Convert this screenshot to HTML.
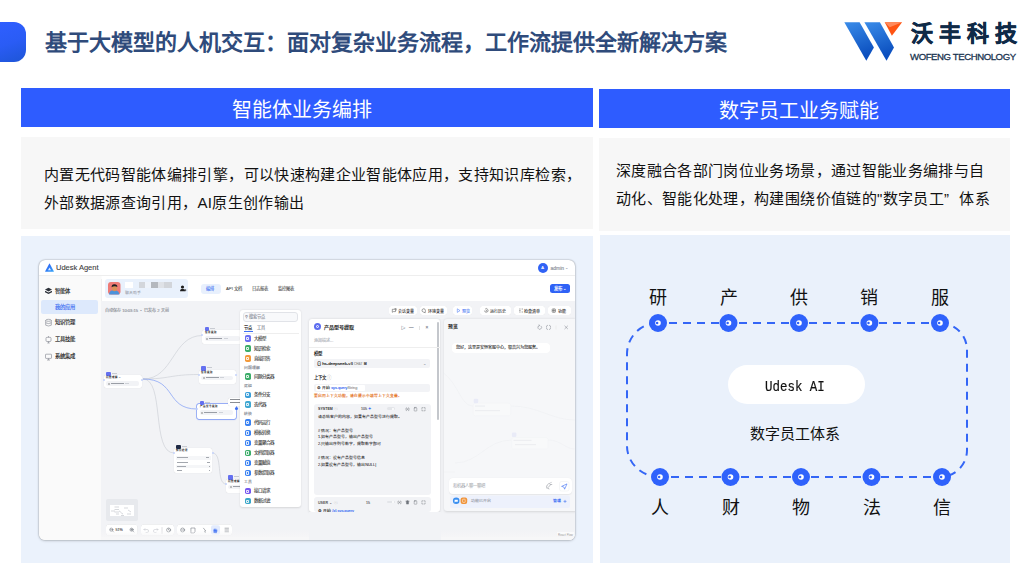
<!DOCTYPE html>
<html lang="zh-CN"><head><meta charset="utf-8">
<style>
*{margin:0;padding:0;box-sizing:border-box}
html,body{width:1034px;height:576px;overflow:hidden;background:#fff;font-family:"Liberation Sans",sans-serif}
.a{position:absolute;white-space:nowrap}
#tab{left:0;top:22px;width:26px;height:40px;border-radius:0 12px 12px 0;background:linear-gradient(160deg,#2f5fff 0%,#2a5cf5 50%,#1d55d6 100%)}
#title{left:44.5px;top:30px;font-size:22px;line-height:26px;font-weight:bold;color:#2f4b7b}
.bar{background:#2e5cff;color:#fff;font-size:20px;line-height:20px}
.grey{background:#f7f7f7}
.lb{background:#eaf1fb}
.txt{font-size:15px;line-height:28px;color:#111;letter-spacing:.35px}
.fq{display:inline-block;width:15.35px}
</style></head><body>
<div id="tab" class="a"></div>
<div id="title" class="a">基于大模型的人机交互：面对复杂业务流程，工作流提供全新解决方案</div>

<!-- logo -->
<svg class="a" style="left:0;top:0" width="1034" height="80">
 <defs>
  <linearGradient id="lg" x1="0" y1="0" x2="0.3" y2="1">
   <stop offset="0" stop-color="#3a8ce9"/><stop offset="1" stop-color="#0b4fbf"/>
  </linearGradient>
 </defs>
 <polygon points="844.3,22.2 859.6,22.2 873.9,47.5 866.3,60.7" fill="url(#lg)"/>
 <polygon points="864.4,22.2 879.9,22.2 894,47.5 886.5,60.7" fill="url(#lg)"/>
 <polygon points="884.7,22.2 902.1,22.2 891.9,35.8" fill="#ff5412"/>
 <polygon points="884.7,22.2 902.1,22.2 889.7,27.2" fill="#ff8a5c"/>
</svg>
<div class="a" style="left:911px;top:20.5px;font-size:22px;line-height:26px;font-weight:bold;color:#0f2a47;letter-spacing:6px;-webkit-text-stroke:.5px #0f2a47">沃丰科技</div>
<div class="a" style="left:910px;top:50.8px;font-size:9.6px;line-height:12px;color:#1a3450;letter-spacing:-.42px;-webkit-text-stroke:.3px #1a3450">WOFENG TECHNOLOGY</div>

<!-- bars -->
<div class="a bar" style="left:21px;top:88px;width:572px;height:39px"></div>
<div class="a" style="left:231.5px;top:98.5px;font-size:20px;line-height:22px;color:#fff">智能体业务编排</div>
<div class="a bar" style="left:599px;top:89px;width:411px;height:39px"></div>
<div class="a" style="left:719px;top:99.5px;font-size:20px;line-height:22px;color:#fff">数字员工业务赋能</div>

<div class="a grey" style="left:21px;top:137px;width:572px;height:92px"></div>
<div class="a txt" style="left:44px;top:161px">内置无代码智能体编排引擎，可以快速构建企业智能体应用，支持知识库检索，<br>外部数据源查询引用，AI原生创作输出</div>
<div class="a grey" style="left:599px;top:138px;width:411px;height:93px"></div>
<div class="a txt" style="left:616px;top:157px">深度融合各部门岗位业务场景，通过智能业务编排与自<br>动化、智能化处理，构建围绕价值链的"数字员工<span class="fq">”</span>体系</div>

<div class="a lb" style="left:21px;top:236px;width:572px;height:327px;background:#ebf2fc"></div>
<div class="a lb" style="left:600px;top:235px;width:410px;height:328px"></div>

<!-- app window -->
<div id="win" class="a" style="left:39px;top:259.5px;width:536px;height:280.5px;background:#fff;border-radius:6px;box-shadow:0 0 1.5px rgba(0,0,0,.45),0 1px 3px rgba(0,0,0,.15);overflow:hidden">

<style>
#win div,#win span{position:absolute;white-space:nowrap}
#win .t{font-size:4.6px;line-height:6px;color:#1e1e1e;-webkit-text-stroke:.14px currentColor}
#win .ic::after{content:"";position:absolute;left:1.6px;top:1.6px;width:3.1px;height:3.1px;border:.5px solid rgba(255,255,255,.85);border-radius:.8px;box-sizing:border-box}
#win .g{color:#8a8f99}
#win .ic{width:6.3px;height:6.3px;border-radius:1.8px}
#win .btn{background:#fff;border-radius:2.5px;height:9.4px;box-shadow:0 0 .6px rgba(0,0,0,.12)}
#win .node{background:#fff;border-radius:2px;box-shadow:0 0 .8px rgba(0,0,0,.18)}
#win .nic{width:4.5px;height:4.5px;border-radius:1px;background:#6470f0}
#win .fld{background:#f2f3f6;border-radius:2px}
</style>
<!-- header -->
<svg style="position:absolute;left:6.2px;top:3.3px" width="10" height="9"><defs><linearGradient id="ulg" x1="0" y1="0" x2="1" y2="1"><stop offset="0" stop-color="#2a52f5"/><stop offset="1" stop-color="#37a7f7"/></linearGradient></defs><path d="M4.5,0.3 L8.8,8.2 Q9,8.7 8.4,8.7 L0.6,8.7 Q0,8.7 0.2,8.2 Z" fill="url(#ulg)"/><path d="M4.5,4.5 L6,7.2 L3,7.2 Z" fill="#fff" opacity=".85"/></svg>
<div class="t" style="left:17px;top:3.4px;font-size:7.5px;line-height:10px;color:#404040;font-weight:normal;-webkit-text-stroke:.1px #404040">Udesk Agent</div>
<div style="left:0;top:15.8px;width:536px;height:.6px;background:#eeeeee"></div>
<div style="left:499px;top:3.5px;width:10px;height:10px;border-radius:50%;background:#3062f5"></div>
<div class="t" style="left:502.3px;top:5.5px;color:#fff;font-size:4px">A</div>
<div class="t g" style="left:511.5px;top:5.2px;font-size:5px">admin</div>
<div class="t g" style="left:526px;top:5px;font-size:4px">⌄</div>
<!-- sidebar -->
<div style="left:0;top:16.4px;width:61.5px;height:265px;background:#fafafa;box-shadow:.5px 0 .8px rgba(0,0,0,.06)"></div>
<svg style="position:absolute;left:0;top:0" width="62" height="110">
 <g fill="#2e323a"><path d="M9.5,27.8 L13,29.6 L9.5,31.4 L6,29.6 Z"/><path d="M6,30.8 L9.5,32.6 L13,30.8 L13,32.2 L9.5,34 L6,32.2 Z"/></g>
 <g fill="none" stroke="#7d828b" stroke-width=".6">
  <ellipse cx="9.5" cy="60.3" rx="2.8" ry="1"/><path d="M6.7,60.3 V65.2 Q9.5,66.8 12.3,65.2 V60.3 M6.7,62.8 Q9.5,64.4 12.3,62.8"/>
  <rect x="7" y="77.3" width="5" height="4.2" rx="1"/><path d="M9.5,76 V77.3 M8.3,83 H10.7 M9.5,81.5 V83"/>
  <rect x="6.5" y="94.2" width="6" height="4.2" rx=".5"/><path d="M8,100 H11 M9.5,98.4 V100"/>
 </g>
</svg>
<div class="t" style="left:16px;top:28px;font-size:5.3px;color:#222">智能体</div>
<div style="left:1.5px;top:40px;width:57.5px;height:14px;border-radius:2px;background:#dde9fc"></div>
<div class="t" style="left:16px;top:44px;font-size:5.3px;color:#3d6ff3">我的应用</div>
<div class="t" style="left:16px;top:59px;font-size:5.3px;color:#222">知识管理</div>
<div class="t" style="left:16px;top:76px;font-size:5.3px;color:#222">工具技能</div>
<div class="t" style="left:16px;top:93px;font-size:5.3px;color:#222">系统集成</div>
<!-- agent card + tabs -->
<div style="left:65.6px;top:19.3px;width:83.4px;height:18.9px;border-radius:3px;background:#e9f1fc"></div>
<svg style="position:absolute;left:69.3px;top:22px" width="13" height="13">
 <rect x="0" y="0" width="12.5" height="12.5" rx="3" fill="#ee7b76"/>
 <path d="M1,12.5 Q1.5,8 6,8.3 Q10.5,8 11.5,12.5 Z" fill="#4b93dc"/>
 <ellipse cx="6.5" cy="6.2" rx="2.6" ry="3" fill="#d9915a"/>
 <path d="M3.6,5.2 Q3.5,2 6.5,2.2 Q9.6,2.3 9.3,5 Q7.5,3.8 5,4.6 Z" fill="#1e1e24"/>
</svg>
<div style="left:86px;top:22px;width:7.5px;height:6.5px;background:#fff"></div>
<div style="left:99.5px;top:22.5px;width:6.3px;height:6px;background:#d3d6db"></div>
<div style="left:106px;top:22.5px;width:6px;height:6px;background:#eef3fa"></div>
<div style="left:112px;top:22.5px;width:6.5px;height:6px;background:#b4b8be"></div>
<div style="left:119px;top:22.5px;width:6px;height:6px;background:#dfe2e7"></div>
<div style="left:125px;top:22.5px;width:7.5px;height:6px;background:#d2d5da"></div>
<div class="t g" style="left:86px;top:30.3px;font-size:3.9px;-webkit-text-stroke:0">聊天助手</div>
<svg style="position:absolute;left:140px;top:25px" width="8" height="8"><circle cx="3.5" cy="2" r="1.6" fill="#1d1d1d"/><path d="M1,6.3 Q1,3.8 3.5,3.8 Q5.5,3.8 5.8,5.3 L5.8,6.3 Z" fill="#1d1d1d"/><path d="M5,5.2 H7.3 M6.15,4.1 V6.3" stroke="#1d1d1d" stroke-width=".7"/></svg>
<div style="left:162px;top:24px;width:19.6px;height:10.7px;border-radius:3px;background:#e8f0fd"></div>
<div class="t" style="left:167.3px;top:26.8px;font-size:4.3px;color:#3d6ff3;-webkit-text-stroke:.08px currentColor">编排</div>
<div class="t" style="left:187px;top:26.8px;font-size:4.3px;color:#4d4d4d;-webkit-text-stroke:.08px currentColor">API 文档</div>
<div class="t" style="left:212.8px;top:26.8px;font-size:4.3px;color:#4d4d4d;-webkit-text-stroke:.08px currentColor">日志报表</div>
<div class="t" style="left:239px;top:26.8px;font-size:4.3px;color:#4d4d4d;-webkit-text-stroke:.08px currentColor">监控图表</div>
<div style="left:511px;top:24.4px;width:19.7px;height:9.6px;border-radius:2.5px;background:#2f62f6"></div>
<div class="t" style="left:515px;top:26.3px;font-size:4.4px;color:#fff;font-weight:bold;-webkit-text-stroke:0">发布 ⌄</div>
<!-- canvas -->
<div style="left:61.5px;top:41px;width:475px;height:240px;background:#f2f3f6"></div>
<div class="t g" style="left:66px;top:48.8px;font-size:4.1px;color:#8d9199">自动保存 10:03:15 &nbsp;• &nbsp;已发布 2 天前</div>
<!-- edges -->
<svg style="position:absolute;left:0;top:0" width="536" height="281">
 <g fill="none" stroke="#c5c8cf" stroke-width=".55">
  <path d="M104,119 C135,119 133,75.5 163.4,75.5"/>
  <path d="M104,119 C131,119 131,114.5 159.6,114.5"/>
  <path d="M104,119 C126,119 112,193 135,193"/>
  <path d="M173.5,193 C184,193 177,224 187,224"/>
 </g>
 <path d="M104,119 C138,119 126,149 158,149" fill="none" stroke="#86a2f6" stroke-width=".75"/>
</svg>
<!-- nodes -->
<div class="node" style="left:64.8px;top:115.3px;width:38.2px;height:13.4px"></div>
<div class="nic" style="left:67.3px;top:112.0px;background:#6470f0"></div>
<div style="left:72.8px;top:113.0px;width:5px;height:1px;background:#c8cbd2"></div>
<div class="t" style="left:67.0px;top:116.5px;font-size:2.5px;line-height:3px;font-weight:bold;-webkit-text-stroke:0">问题理解 A</div>
<div class="fld" style="left:67.0px;top:121.3px;width:33.2px;height:4.8px"></div>
<div style="left:68.8px;top:123.1px;width:1.3px;height:1.3px;border-radius:50%;border:.3px solid #999"></div>
<div style="left:71.8px;top:123.2px;width:13px;height:1.1px;background:#9a9ea6"></div>
<div style="left:86.3px;top:123.2px;width:4px;height:1px;background:#cfd2d8"></div>
<div style="left:63.8px;top:119.3px;width:2px;height:2px;border-radius:50%;background:#c5d3fb"></div>
<div style="left:102.0px;top:119.3px;width:2px;height:2px;border-radius:50%;background:#c5d3fb"></div>
<div class="node" style="left:163.4px;top:70.5px;width:40px;height:14.2px"></div>
<div class="nic" style="left:165.9px;top:67.2px;background:#6470f0"></div>
<div style="left:171.4px;top:68.2px;width:5px;height:1px;background:#c8cbd2"></div>
<div class="t" style="left:165.6px;top:71.7px;font-size:2.5px;line-height:3px;font-weight:bold;-webkit-text-stroke:0">信息提取</div>
<div class="fld" style="left:165.6px;top:76.5px;width:35px;height:4.8px"></div>
<div style="left:167.4px;top:78.3px;width:1.3px;height:1.3px;border-radius:50%;border:.3px solid #999"></div>
<div style="left:170.4px;top:78.4px;width:13px;height:1.1px;background:#9a9ea6"></div>
<div style="left:184.9px;top:78.4px;width:4px;height:1px;background:#cfd2d8"></div>
<div style="left:162.4px;top:74.5px;width:2px;height:2px;border-radius:50%;background:#c5d3fb"></div>
<div style="left:202.4px;top:74.5px;width:2px;height:2px;border-radius:50%;background:#c5d3fb"></div>
<div class="node" style="left:159.6px;top:110px;width:37.7px;height:14px"></div>
<div class="nic" style="left:162.1px;top:106.7px;background:#6470f0"></div>
<div style="left:167.6px;top:107.7px;width:5px;height:1px;background:#c8cbd2"></div>
<div class="t" style="left:161.79999999999998px;top:111.2px;font-size:2.5px;line-height:3px;font-weight:bold;-webkit-text-stroke:0">信息提取</div>
<div class="fld" style="left:161.79999999999998px;top:116px;width:32.7px;height:4.8px"></div>
<div style="left:163.6px;top:117.8px;width:1.3px;height:1.3px;border-radius:50%;border:.3px solid #999"></div>
<div style="left:166.6px;top:117.9px;width:13px;height:1.1px;background:#9a9ea6"></div>
<div style="left:181.1px;top:117.9px;width:4px;height:1px;background:#cfd2d8"></div>
<div style="left:158.6px;top:114px;width:2px;height:2px;border-radius:50%;background:#c5d3fb"></div>
<div style="left:196.3px;top:114px;width:2px;height:2px;border-radius:50%;background:#c5d3fb"></div>
<div class="node" style="left:158.4px;top:144.5px;width:38.9px;height:14.5px;box-shadow:0 0 0 .7px #7d99f6,0 .5px 1.5px rgba(60,100,240,.25)"></div>
<div class="nic" style="left:160.9px;top:141.2px;background:#6470f0"></div>
<div style="left:166.4px;top:142.2px;width:5px;height:1px;background:#c8cbd2"></div>
<div class="t" style="left:160.6px;top:145.7px;font-size:2.5px;line-height:3px;font-weight:bold;-webkit-text-stroke:0">产品型号提取</div>
<div class="fld" style="left:160.6px;top:150.5px;width:33.9px;height:4.8px"></div>
<div style="left:162.4px;top:152.3px;width:1.3px;height:1.3px;border-radius:50%;border:.3px solid #999"></div>
<div style="left:165.4px;top:152.4px;width:13px;height:1.1px;background:#9a9ea6"></div>
<div style="left:179.9px;top:152.4px;width:4px;height:1px;background:#cfd2d8"></div>
<div style="left:157.4px;top:148.5px;width:2px;height:2px;border-radius:50%;background:#c5d3fb"></div>
<div style="left:196.3px;top:148.5px;width:2px;height:2px;border-radius:50%;background:#c5d3fb"></div>
<div style="left:195.5px;top:147px;width:3.2px;height:3.2px;border-radius:50%;background:#3d6ff3"></div>
<div class="node" style="left:189px;top:138px;width:14px;height:8px"></div>
<div style="left:190.5px;top:139.6px;width:10px;height:.8px;background:#8a8d93"></div><div style="left:190.5px;top:142.2px;width:10px;height:.8px;background:#8a8d93"></div>
<div class="node" style="left:134.8px;top:188.5px;width:38.7px;height:25px"></div>
<div class="nic" style="left:137.3px;top:185.2px;background:#1f2a44"></div>
<div style="left:142.8px;top:186.2px;width:5px;height:1px;background:#c8cbd2"></div>
<div class="t" style="left:137.0px;top:189.7px;font-size:2.5px;line-height:3px;font-weight:bold;-webkit-text-stroke:0">知识检索</div>
<div style="left:133.8px;top:192.5px;width:2px;height:2px;border-radius:50%;background:#c5d3fb"></div>
<div style="left:172.5px;top:192.5px;width:2px;height:2px;border-radius:50%;background:#c5d3fb"></div>
<div style="left:136.5px;top:196.5px;width:35px;height:3.6px;background:#f5f6f8"></div>
<div style="left:138px;top:197.8px;width:11px;height:.9px;background:#a3a7ae"></div>
<div style="left:167px;top:197.8px;width:3px;height:.9px;background:#a3a7ae"></div>
<div style="left:136.5px;top:200.8px;width:35px;height:3.6px;background:#fff"></div>
<div style="left:138px;top:202.10000000000002px;width:11px;height:.9px;background:#a3a7ae"></div>
<div style="left:168px;top:202.10000000000002px;width:2.5px;height:.9px;background:#a3a7ae"></div>
<div style="left:136.5px;top:205px;width:35px;height:3.6px;background:#f5f6f8"></div>
<div style="left:138px;top:206.3px;width:9px;height:.9px;background:#a3a7ae"></div>
<div style="left:169.5px;top:206.3px;width:1px;height:.9px;background:#a3a7ae"></div>
<div style="left:136.5px;top:209.2px;width:35px;height:3.6px;background:#fff"></div>
<div style="left:138px;top:210.5px;width:5px;height:.9px;background:#a3a7ae"></div>
<div style="left:169.5px;top:210.5px;width:1px;height:.9px;background:#a3a7ae"></div>
<div class="node" style="left:186.8px;top:219px;width:20px;height:14px"></div>
<div class="nic" style="left:189.3px;top:215.7px;background:#6470f0"></div>
<div style="left:194.8px;top:216.7px;width:5px;height:1px;background:#c8cbd2"></div>
<div class="t" style="left:189.0px;top:220.2px;font-size:2.5px;line-height:3px;font-weight:bold;-webkit-text-stroke:0">问题理解 1</div>
<div class="fld" style="left:189.0px;top:225px;width:15px;height:4.8px"></div>
<div style="left:190.8px;top:226.8px;width:1.3px;height:1.3px;border-radius:50%;border:.3px solid #999"></div>
<div style="left:193.8px;top:226.9px;width:13px;height:1.1px;background:#9a9ea6"></div>
<div style="left:208.3px;top:226.9px;width:4px;height:1px;background:#cfd2d8"></div>
<div style="left:185.8px;top:223px;width:2px;height:2px;border-radius:50%;background:#c5d3fb"></div>
<div style="left:205.8px;top:223px;width:2px;height:2px;border-radius:50%;background:#c5d3fb"></div>
<!-- minimap & toolbar -->
<div style="left:66.7px;top:239.5px;width:32.2px;height:22.4px;border-radius:2px;background:#e7e9ed"></div>
<div style="left:71.2px;top:245px;width:23.6px;height:11.5px;background:#fff"></div>
<svg style="position:absolute;left:71.2px;top:245px" width="24" height="12"><g fill="none" stroke="#9aa0a8" stroke-width=".4"><path d="M1,6 H5 M4.5,2 H9 M4.5,4.5 H9 M4.5,7 H9 M9,6 C11,6 11,9 13,9 M14,3 H18 M18,5 L21,7 M6,9 H9 M11,10.5 H14 M17,9 H21"/></g></svg>
<svg style="position:absolute;left:0;top:0" width="536" height="281">
 <g fill="#fff" style="filter:drop-shadow(0 0 .4px rgba(0,0,0,.18))">
  <rect x="67" y="264.5" width="31.5" height="11" rx="3"/>
  <rect x="102" y="264.5" width="33" height="11" rx="3"/>
  <rect x="138" y="264.5" width="55" height="11" rx="3"/>
 </g>
 <rect x="172" y="265.3" width="9" height="9.4" rx="2" fill="#e3ebfd"/>
 <g fill="none" stroke="#6b7079" stroke-width=".55" stroke-linecap="round">
  <circle cx="72.3" cy="269.7" r="1.6"/><path d="M73.5,270.9 L74.6,272"/>
  <circle cx="92.6" cy="269.7" r="1.6"/><path d="M93.8,270.9 L94.9,272 M91.8,269.7 H93.4 M92.6,268.9 V270.5"/>
  <path d="M71.5,269.7 H73.1"/>
 </g>
 <g fill="none" stroke="#c2c5cb" stroke-width=".55" stroke-linecap="round">
  <path d="M106,268.5 L105,269.5 L106,270.5 M105,269.5 H108 Q109.6,269.5 109.6,271 Q109.6,272.5 108,272.5 H107"/>
  <path d="M118,268.5 L119,269.5 L118,270.5 M119,269.5 H116 Q114.4,269.5 114.4,271 Q114.4,272.5 116,272.5 H117"/>
  <path d="M123,267.5 V273.5"/>
 </g>
 <g fill="none" stroke="#6b7079" stroke-width=".55" stroke-linecap="round">
  <circle cx="129.6" cy="270" r="2"/><path d="M129.6,268.9 V270 L130.4,270.6"/>
  <circle cx="143.6" cy="270" r="2"/><path d="M142.6,270 H144.6"/>
  <path d="M152.3,268 H156 V272 L155,273 H152.3 Z"/>
  <path d="M164.5,268.2 L166.8,271 L165.6,271 L166.3,272.6"/>
  <path d="M186,268.2 H189.5 M186,270 H189.5 M186,271.8 H189.5"/>
 </g>
 <path d="M174.6,273 Q174,270 175,268.5 L175.5,270 L176,267.8 L176.6,270 L177.3,268.4 L177.6,270.5 L178.3,269.6 Q178.5,272 177.5,273.2 Z" fill="#3d6ff3"/>
</svg>
<div class="t" style="left:76.5px;top:267.8px;font-size:3.6px;color:#555">51%</div>
<div style="left:61.5px;top:270px;width:475px;height:11px;background:linear-gradient(rgba(250,250,251,0),#f6f6f7 70%,#f8f8f9)"></div>
<div style="left:61.5px;top:277px;width:475px;height:4px;background:#f7f7f8"></div>
<div style="left:518px;top:272.3px;width:17px;height:4px;background:rgba(255,255,255,.6)"></div>
<div class="t g" style="left:519px;top:272.3px;font-size:3px;color:#999;-webkit-text-stroke:0">React Flow</div>
<!-- node list panel -->
<div style="left:201.2px;top:50.4px;width:60.4px;height:197px;background:#fff;border-radius:3px;box-shadow:0 .5px 2px rgba(0,0,0,.12)"></div>
<div style="left:204px;top:52.5px;width:55px;height:10px;border-radius:3px;border:.5px solid #e1e3e8;background:#f8f9fb"></div>
<div class="t g" style="left:206px;top:54.6px;font-size:4.2px">⚲ 搜索节点</div>
<div class="t" style="left:205px;top:65px;font-size:4.2px;font-weight:bold;-webkit-text-stroke:0">节点</div>
<div class="t g" style="left:217.5px;top:65px;font-size:4.2px">工具</div>
<div style="left:204.5px;top:71.8px;width:9px;height:.7px;background:#3d6ff3"></div>
<div style="left:204px;top:73px;width:56px;height:.5px;background:#eee"></div>
<div class="ic" style="left:205.5px;top:75.8px;background:#6a6ff2"></div><div class="t" style="left:215px;top:76px;font-size:4.5px;color:#3c3c3c;-webkit-text-stroke:.1px currentColor">大模型</div>
<div class="ic" style="left:205.5px;top:85.8px;background:#3cad69"></div><div class="t" style="left:215px;top:86px;font-size:4.5px;color:#3c3c3c;-webkit-text-stroke:.1px currentColor">知识检索</div>
<div class="ic" style="left:205.5px;top:95.8px;background:#f39a3b"></div><div class="t" style="left:215px;top:96px;font-size:4.5px;color:#3c3c3c;-webkit-text-stroke:.1px currentColor">直接回答</div>
<div class="t g" style="left:205px;top:105px;font-size:3.8px">问题理解</div>
<div class="ic" style="left:205.5px;top:113.8px;background:#3cad69"></div><div class="t" style="left:215px;top:114px;font-size:4.5px;color:#3c3c3c;-webkit-text-stroke:.1px currentColor">问题分类器</div>
<div class="t g" style="left:205px;top:123px;font-size:3.8px">逻辑</div>
<div class="ic" style="left:205.5px;top:132.2px;background:#3b9fd9"></div><div class="t" style="left:215px;top:132.4px;font-size:4.5px;color:#3c3c3c;-webkit-text-stroke:.1px currentColor">条件分支</div>
<div class="ic" style="left:205.5px;top:141.8px;background:#41a8d2"></div><div class="t" style="left:215px;top:142px;font-size:4.5px;color:#3c3c3c;-webkit-text-stroke:.1px currentColor">迭代器</div>
<div class="t g" style="left:205px;top:151.5px;font-size:3.8px">转换</div>
<div class="ic" style="left:205.5px;top:159.8px;background:#3b82f2"></div><div class="t" style="left:215px;top:160px;font-size:4.5px;color:#3c3c3c;-webkit-text-stroke:.1px currentColor">代码运行</div>
<div class="ic" style="left:205.5px;top:170.4px;background:#3b82f2"></div><div class="t" style="left:215px;top:170.6px;font-size:4.5px;color:#3c3c3c;-webkit-text-stroke:.1px currentColor">模板转换</div>
<div class="ic" style="left:205.5px;top:180.4px;background:#3b82f2"></div><div class="t" style="left:215px;top:180.6px;font-size:4.5px;color:#3c3c3c;-webkit-text-stroke:.1px currentColor">变量聚合器</div>
<div class="ic" style="left:205.5px;top:190.4px;background:#3cad69"></div><div class="t" style="left:215px;top:190.6px;font-size:4.5px;color:#3c3c3c;-webkit-text-stroke:.1px currentColor">文档提取器</div>
<div class="ic" style="left:205.5px;top:200.4px;background:#3b82f2"></div><div class="t" style="left:215px;top:200.6px;font-size:4.5px;color:#3c3c3c;-webkit-text-stroke:.1px currentColor">变量赋值</div>
<div class="ic" style="left:205.5px;top:210.4px;background:#3b82f2"></div><div class="t" style="left:215px;top:210.6px;font-size:4.5px;color:#3c3c3c;-webkit-text-stroke:.1px currentColor">参数提取器</div>
<div class="t g" style="left:205px;top:219.4px;font-size:3.8px">工具</div>
<div class="ic" style="left:205.5px;top:228.6px;background:#7657ef"></div><div class="t" style="left:215px;top:228.8px;font-size:4.5px;color:#3c3c3c;-webkit-text-stroke:.1px currentColor">接口请求</div>
<div class="ic" style="left:205.5px;top:238.6px;background:#3aa7c9"></div><div class="t" style="left:215px;top:238.8px;font-size:4.5px;color:#3c3c3c;-webkit-text-stroke:.1px currentColor">数据过滤</div>
<!-- config panel -->
<div style="left:270.2px;top:59.3px;width:131px;height:193px;background:#fff;border-radius:3px;box-shadow:0 .5px 2.5px rgba(0,0,0,.14)"></div>
<div style="left:398px;top:62px;width:1.8px;height:98px;border-radius:1px;background:#c4c7cc"></div>
<div style="left:275px;top:63.5px;width:7px;height:7px;border-radius:50%;background:#5c6df0"></div>
<div style="left:277px;top:65.5px;width:3px;height:3px;border-radius:50%;border:.5px solid #fff"></div>
<div class="t" style="left:284.5px;top:64.7px;font-size:5.1px;line-height:7px;font-weight:bold;color:#222;-webkit-text-stroke:0">产品型号提取</div>
<div class="t g" style="left:361.5px;top:65px;font-size:4.5px">▷</div><div class="t g" style="left:370px;top:65px;font-size:4.5px">—</div><div style="left:380px;top:66px;width:.5px;height:4px;background:#e3e3e3"></div><div class="t g" style="left:386.5px;top:65px;font-size:4.8px">×</div>
<div class="t g" style="left:275px;top:78.5px;font-size:4px;color:#b0b4bb">添加描述...</div>
<div style="left:270.2px;top:87px;width:131px;height:.5px;background:#eee"></div>
<div class="t" style="left:275px;top:91.5px;font-size:4.4px;font-weight:bold;-webkit-text-stroke:0">模型</div>
<div class="fld" style="left:275px;top:99.7px;width:116px;height:9px"></div>
<div class="t" style="left:278px;top:101.3px;font-size:4.3px">⊙ hs-deepseek-v3 <span style="position:static;font-size:3.2px;color:#999">CHAT</span> ⌹</div>
<div class="t g" style="left:384px;top:101px;font-size:4px">⌄</div>
<div class="t" style="left:275px;top:115px;font-size:4.4px;font-weight:bold;-webkit-text-stroke:0">上下文 <span style="position:static;color:#aaa;font-weight:normal">ⓘ</span></div>
<div class="fld" style="left:275px;top:124px;width:116px;height:8.7px"></div>
<div style="left:276.5px;top:125.5px;width:49px;height:5.7px;background:#fff;border-radius:1px"></div>
<div class="t" style="left:278px;top:125.3px;font-size:3.8px">⚙ 开始 <span style="position:static;color:#3d6ff3">sys.query</span><span style="position:static;color:#999">String</span></div>
<div class="t" style="left:275px;top:133.5px;font-size:3.8px;color:#e5762a">要启用上下文功能，请在提示中填写上下文变量。</div>
<div class="fld" style="left:275px;top:144px;width:117px;height:91.5px;border-radius:3px"></div>
<div class="t" style="left:279px;top:146.8px;font-size:3.6px;font-weight:bold;color:#3a3a3a;-webkit-text-stroke:0">SYSTEM <span style="position:static;color:#aaa;font-weight:normal">ⓘ</span></div>
<div class="t" style="left:322px;top:146.8px;font-size:3.6px;color:#666">105 <span style="position:static;color:#3d6ff3">✦</span></div>

<svg style="position:absolute;left:0;top:0" width="536" height="281"><g fill="none" stroke="#6f747c" stroke-width=".45" stroke-linecap="round"><path d="M367.5,147.7 Q367.0,147.7 367.0,148.2 V150.2 Q367.0,150.7 367.5,150.7 M369.5,147.7 Q370.0,147.7 370.0,148.2 V150.2 Q370.0,150.7 369.5,150.7 M368.0,148.5 L369.0,149.89999999999998 M369.0,148.5 L368.0,149.89999999999998"/><rect x="375.2" y="147.79999999999998" width="2.6" height="3.2" rx=".4"/><path d="M375.9,147.39999999999998 H377.1"/><path d="M382.9,148.6 V147.6 H383.9 M385.1,147.6 H386.1 V148.6 M386.1,149.79999999999998 V150.79999999999998 H385.1 M383.9,150.79999999999998 H382.9 V149.79999999999998"/></g></svg><div style="left:348px;top:147.8px;width:8px;height:2.8px;border-radius:1.5px;background:#e3e5e9"></div><div style="left:353px;top:148px;width:2.4px;height:2.4px;border-radius:50%;background:#fff"></div>
<div class="t" style="left:279px;top:154.5px;font-size:3.9px;line-height:6.8px;color:#262626;-webkit-text-stroke:.06px currentColor">请总结客户的内容，如果有产品型号进行提取。<br><br># 情况：有产品型号<br>1.如有产品型号，输出产品型号<br>2.只输出序列号数字，提取数字即可<br><br># 情况：没有产品型号信息<br>2.如果没有产品型号，输出NULL|</div>
<div class="fld" style="left:275px;top:237.3px;width:117px;height:15px;border-radius:3px"></div>
<div class="t" style="left:279px;top:240px;font-size:3.6px;font-weight:bold;color:#555;-webkit-text-stroke:0">USER ⌄ <span style="position:static;color:#aaa;font-weight:normal">&nbsp;ⓘ</span></div>
<div class="t" style="left:327px;top:240px;font-size:3.6px;color:#666">15</div>

<svg style="position:absolute;left:0;top:0" width="536" height="281"><g fill="none" stroke="#6f747c" stroke-width=".45" stroke-linecap="round"><path d="M359.5,240.9 Q359.0,240.9 359.0,241.4 V243.4 Q359.0,243.9 359.5,243.9 M361.5,240.9 Q362.0,240.9 362.0,241.4 V243.4 Q362.0,243.9 361.5,243.9 M360.0,241.70000000000002 L361.0,243.1 M361.0,241.70000000000002 L360.0,243.1"/><path d="M366.9,241.20000000000002 H370.1 M367.9,241.20000000000002 V240.70000000000002 H369.1 V241.20000000000002 M367.3,241.20000000000002 L367.5,244.1 H369.5 L369.7,241.20000000000002" fill="#6f747c"/><rect x="375.2" y="241.0" width="2.6" height="3.2" rx=".4"/><path d="M375.9,240.6 H377.1"/><path d="M382.9,241.8 V240.8 H383.9 M385.1,240.8 H386.1 V241.8 M386.1,243.0 V244.0 H385.1 M383.9,244.0 H382.9 V243.0"/></g></svg><div style="left:348px;top:241px;width:8px;height:2.8px;border-radius:1.5px;background:#e3e5e9"></div><div style="left:353px;top:241.2px;width:2.4px;height:2.4px;border-radius:50%;background:#fff"></div>
<div class="t" style="left:279px;top:248px;font-size:3.8px">⚙ 开始 <span style="position:static;color:#3d6ff3">{x} sys.query</span></div>
<div style="left:270px;top:252.3px;width:132px;height:29px;background:#f2f3f6"></div>
<!-- preview panel -->
<div style="left:404.5px;top:59.7px;width:132px;height:191.6px;background:#f6f7f9;border-radius:3px 0 0 3px;box-shadow:0 .5px 2.5px rgba(0,0,0,.12)"></div>
<svg style="position:absolute;left:0;top:0;opacity:.55" width="536" height="281">
 <g fill="none" stroke="#e4e6ea" stroke-width=".5">
  <path d="M404.5,113 C420,125 422,146 434,146"/><path d="M471.7,146 C500,146 512,160 536,160"/>
  <path d="M416,203 C440,203 447,180 472.75,180"/><path d="M509,180 C522,180 526,189 536,189"/>
  <path d="M405,212 H416"/>
 </g>
 <g fill="#fbfbfc" stroke="#eceef1" stroke-width=".4">
  <rect x="434.2" y="143.2" width="37.5" height="12.5" rx="2"/>
  <rect x="472.75" y="177.5" width="36.25" height="11.5" rx="2"/>
 </g>
 <g fill="#dfe2f7"><rect x="434.7" y="138.7" width="4.5" height="4.5" rx="1"/><rect x="472.9" y="172.5" width="4.5" height="4.5" rx="1"/></g>
 <g fill="#e6e8ec"><rect x="436" y="145.5" width="10" height="1.2"/><rect x="436" y="150" width="25" height="1.2"/><rect x="474.5" y="179.8" width="18" height="1.2"/><rect x="476" y="184" width="21" height="1.2"/></g>
</svg>
<div class="t" style="left:409px;top:64.5px;font-size:4.8px;font-weight:bold;-webkit-text-stroke:0">预览</div>
<svg style="position:absolute;left:0;top:0" width="536" height="281">
 <g fill="none" stroke="#7a7f88" stroke-width=".5" stroke-linecap="round">
  <path d="M502.2,66.2 A1.9,1.9 0 1 1 500.1,65.6"/><path d="M500.1,64.8 L500.6,65.6 L499.8,66.1"/>
  <path d="M508.5,65.3 Q507.6,65.3 507.6,66.3 Q507.6,67.2 507,67.4 Q507.6,67.6 507.6,68.5 Q507.6,69.5 508.5,69.5 M510.5,65.3 Q511.4,65.3 511.4,66.3 Q511.4,67.2 512,67.4 Q511.4,67.6 511.4,68.5 Q511.4,69.5 510.5,69.5"/>
  <path d="M525.8,66 L528.6,68.8 M528.6,66 L525.8,68.8"/>
 </g>
 <path d="M517,65.5 V69.5" stroke="#e3e3e3" stroke-width=".5"/>
</svg>
<div style="left:413.4px;top:83.4px;width:97.5px;height:10.1px;background:#fff;border-radius:3px;box-shadow:0 0 .4px rgba(0,0,0,.08)"></div>
<div class="t" style="left:417px;top:85.5px;font-size:4.1px;-webkit-text-stroke:.08px currentColor">您好，这里是安恒客服中心，很高兴为您服务。</div>
<div style="left:409.8px;top:218.6px;width:123.5px;height:16.1px;background:#fff;border-radius:4px;box-shadow:0 .3px 1.2px rgba(0,0,0,.07)"></div>
<div class="t g" style="left:414px;top:223.7px;font-size:4.3px;color:#9a9ea6;-webkit-text-stroke:0">和机器人聊一聊吧</div>
<svg style="position:absolute;left:0;top:0" width="536" height="281">
 <rect x="520.5" y="221.5" width="9.5" height="9.5" rx="2" fill="#fff" stroke="#e6e8ec" stroke-width=".4"/>
 <path d="M522.6,226.4 L528,223.9 L525.6,229.2 L524.9,227 Z" fill="none" stroke="#3d6ff3" stroke-width=".6" stroke-linejoin="round"/>
 <g fill="none" stroke="#7a7f88" stroke-width=".5" stroke-linecap="round"><path d="M508,228.5 Q506.8,227 508.2,225 L509.5,223.8 Q510.7,223 511.3,224 Q511.6,225 510.5,226 L509,227.5 Q508.5,228.8 510,229 M511.5,223 L512.3,222.2 M512,224.5 L512.8,224.5"/></g>
 <rect x="411" y="235.5" width="120" height="12.5" rx="2.5" fill="#edf1fc"/>
 <circle cx="417.2" cy="240.8" r="3.3" fill="#3a8ff0"/><rect x="421.6" y="237.5" width="6.6" height="6.6" rx="2" fill="#f0943a"/>
 <path d="M415.6,239.8 H418.8 V241.8 H416.4 L415.6,242.4 Z" fill="#fff"/><rect x="423.6" y="239.2" width="2.6" height="3.2" rx=".5" fill="none" stroke="#fff" stroke-width=".5"/>
 <path d="M524.5,241.4 H527.5 M526,239.9 V242.9" stroke="#3d6ff3" stroke-width=".55"/>
</svg>
<div class="t g" style="left:431.5px;top:238.4px;font-size:3.9px;-webkit-text-stroke:.05px currentColor">功能已开启</div>
<div class="t" style="left:514px;top:238.4px;font-size:3.9px;color:#3d6ff3;font-weight:bold;-webkit-text-stroke:0">管理</div>
<!-- toolbar top -->
<div class="btn" style="left:350.4px;top:46.3px;width:27.2px"></div>
<div class="btn" style="left:380.8px;top:46.3px;width:27.2px"></div>
<div class="btn" style="left:414.3px;top:46.3px;width:19.2px"></div>
<div class="btn" style="left:441px;top:46.3px;width:30.6px"></div>
<div class="btn" style="left:475px;top:46.3px;width:31px"></div>
<div class="btn" style="left:509px;top:46.3px;width:22.8px"></div>
<svg style="position:absolute;left:0;top:0" width="536" height="281">
 <g fill="none" stroke="#444" stroke-width=".5" stroke-linejoin="round">
  <path d="M356.5,49.3 H353.3 V52.3 L354.3,51.6 H356.5 Z"/><path d="M355.5,48.6 H357.2 V50.5"/>
  <path d="M386.4,50.5 A1.7,1.7 0 1 0 384,52 L384.8,52.2 L386.2,52.8 Z"/>
  <path d="M446.2,49 A1.8,1.8 0 1 1 445.5,50.6"/><path d="M447.3,49.8 V51 L448,51.4"/>
  <path d="M480.2,49 H481.6 M480.2,50.5 H481.6 M480.2,52 H481.6 M482.6,49 H484 M482.6,52 H484"/>
  <rect x="513.2" y="48.9" width="3.2" height="3.4" rx=".4"/><path d="M513.2,50.6 H516.4 M514.8,48.9 V52.3"/>
 </g>
 <path d="M418.3,48.8 L421,50.6 L418.3,52.4 Z" fill="none" stroke="#3d6ff3" stroke-width=".5" stroke-linejoin="round"/>
</svg>
<div class="t" style="left:359.4px;top:49.3px;font-size:4px;-webkit-text-stroke:.06px currentColor">会话变量</div>
<div class="t" style="left:389px;top:49.3px;font-size:4px;-webkit-text-stroke:.06px currentColor">环境变量</div>
<div class="t" style="left:422.6px;top:49.3px;font-size:4px;color:#3d6ff3;-webkit-text-stroke:.06px currentColor">预览</div>
<div class="t" style="left:450.9px;top:49.3px;font-size:4px;-webkit-text-stroke:.06px currentColor">运行历史</div>
<div class="t" style="left:485px;top:49.3px;font-size:4px;-webkit-text-stroke:.06px currentColor">检查清单</div>
<div class="t" style="left:519px;top:49.3px;font-size:4px;-webkit-text-stroke:.06px currentColor">功能</div>
</div>

<!-- right diagram -->
<svg class="a" style="left:0;top:0" width="1034" height="576">
 <path d="M940,323 A27,27 0 0 1 967,350 V450 A27,27 0 0 1 942,477" fill="none" stroke="#3466f6" stroke-width="2" stroke-dasharray="8 6"/>
 <path d="M660,477 A33,31 0 0 1 627,446 V354 A31,31 0 0 1 658,323" fill="none" stroke="#3466f6" stroke-width="2" stroke-dasharray="8 6"/>
 <path d="M658,323 H940 M660,477 H942" fill="none" stroke="#3466f6" stroke-width="2" stroke-dasharray="8 6" stroke-dashoffset="3"/>
 <g fill="#2f62fb">
  <circle cx="658" cy="323" r="9"/><circle cx="728.5" cy="323" r="9"/><circle cx="799" cy="323" r="9"/><circle cx="869.4" cy="323" r="9"/><circle cx="940" cy="323" r="9"/>
  <circle cx="660" cy="477" r="9"/><circle cx="730.5" cy="477" r="9"/><circle cx="801" cy="477" r="9"/><circle cx="871.5" cy="477" r="9"/><circle cx="942" cy="477" r="9"/>
 </g>
 <g fill="#fff">
  <circle cx="658" cy="323" r="2.8"/><circle cx="728.5" cy="323" r="2.8"/><circle cx="799" cy="323" r="2.8"/><circle cx="869.4" cy="323" r="2.8"/><circle cx="940" cy="323" r="2.8"/>
  <circle cx="660" cy="477" r="2.8"/><circle cx="730.5" cy="477" r="2.8"/><circle cx="801" cy="477" r="2.8"/><circle cx="871.5" cy="477" r="2.8"/><circle cx="942" cy="477" r="2.8"/>
 </g>
 <g fill="#2f62fb">
  <circle cx="657.1" cy="323" r="1.25"/><circle cx="727.6" cy="323" r="1.25"/><circle cx="798.1" cy="323" r="1.25"/><circle cx="868.5" cy="323" r="1.25"/><circle cx="939.1" cy="323" r="1.25"/><circle cx="659.1" cy="477" r="1.25"/><circle cx="729.6" cy="477" r="1.25"/><circle cx="800.1" cy="477" r="1.25"/><circle cx="870.6" cy="477" r="1.25"/><circle cx="941.1" cy="477" r="1.25"/>
 </g>
</svg>
<div class="a" style="left:649px;top:287.5px;font-size:18px;line-height:20px;color:#111">研</div>
<div class="a" style="left:719.5px;top:287.5px;font-size:18px;line-height:20px;color:#111">产</div>
<div class="a" style="left:790px;top:287.5px;font-size:18px;line-height:20px;color:#111">供</div>
<div class="a" style="left:860.4px;top:287.5px;font-size:18px;line-height:20px;color:#111">销</div>
<div class="a" style="left:931px;top:287.5px;font-size:18px;line-height:20px;color:#111">服</div>
<div class="a" style="left:651px;top:498px;font-size:18px;line-height:20px;color:#111">人</div>
<div class="a" style="left:721.5px;top:498px;font-size:18px;line-height:20px;color:#111">财</div>
<div class="a" style="left:792px;top:498px;font-size:18px;line-height:20px;color:#111">物</div>
<div class="a" style="left:862.5px;top:498px;font-size:18px;line-height:20px;color:#111">法</div>
<div class="a" style="left:933px;top:498px;font-size:18px;line-height:20px;color:#111">信</div>
<div class="a" style="left:728px;top:365px;width:137px;height:39px;border-radius:20px;background:#fff"></div>
<div class="a" style="left:765px;top:379px;font-family:'Liberation Mono',monospace;font-size:15px;line-height:18px;color:#111;transform:scaleX(.83);transform-origin:0 0;-webkit-text-stroke:.2px #111">Udesk AI</div>
<div class="a" style="left:750px;top:425px;font-size:15px;line-height:18px;color:#111">数字员工体系</div>
</body></html>
